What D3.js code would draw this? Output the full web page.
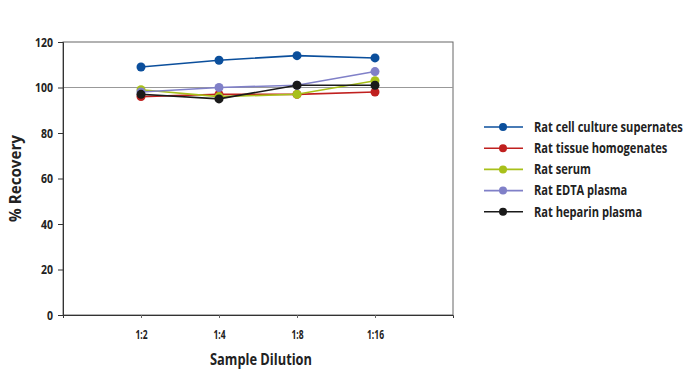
<!DOCTYPE html>
<html><head><meta charset="utf-8">
<script src="https://cdn.jsdelivr.net/npm/d3@7"></script>
<style>body{margin:0;background:#fff;}svg{display:block;font-family:"Open Sans","DejaVu Sans",sans-serif;}</style>
</head><body>
<svg id="c" width="694" height="378"></svg>
<script>
const categories = ["1:2","1:4","1:8","1:16"];
const seriesNames = ["Rat cell culture supernates","Rat tissue homogenates","Rat serum","Rat EDTA plasma","Rat heparin plasma"];
const cellCulture = [109,112,114,113];
const tissue = [96,97,97,98];
const serum = [99,96,97,103];
const edta = [98,100,101,107];
const heparin = [97,95,101,101];
const yTicks = [0,20,40,60,80,100,120];
const colors = ["#0b4f9c","#c0201f","#a8c01a","#8080c8","#1a1a1a"];
const series = [cellCulture, tissue, serum, edta, heparin];

const svg = d3.select("#c");
const L=63,R=453,T=42,B=315;
const x = d3.scaleLinear().domain([0,categories.length+1]).range([L,R]);
const y = d3.scaleLinear().domain([0,120]).range([B,T]);

// horizontally condense texts (transform) so that the widest reaches targetWidth
function condense(sel, targetWidth){
  let maxW = 0;
  sel.each(function(){ maxW = Math.max(maxW, this.getComputedTextLength()); });
  const f = targetWidth / maxW;
  sel.each(function(){
    const t = d3.select(this);
    const tx = +t.attr("x") || 0;
    const prev = t.attr("transform") || "";
    t.attr("x",0).attr("transform", `${prev} translate(${tx},0) scale(${f},1)`);
  });
}

svg.append("rect").attr("x",L).attr("y",T).attr("width",R-L).attr("height",B-T)
  .attr("fill","none").attr("stroke","#666").attr("stroke-width",1);
svg.append("line").attr("x1",L).attr("x2",R).attr("y1",y(100)).attr("y2",y(100))
  .attr("stroke","#999").attr("stroke-width",1);

const ya = svg.append("g").attr("transform",`translate(${L},0)`)
  .call(d3.axisLeft(y).tickValues(yTicks).tickSize(5).tickPadding(5));
ya.select(".domain").attr("stroke","#333");
ya.selectAll("line").attr("stroke","#333");
ya.selectAll("text").attr("font-size",13).attr("font-weight",700).attr("fill","#222").attr("font-family","Open Sans");
condense(ya.selectAll("text"), 18);

const xa = svg.append("g").attr("transform",`translate(0,${B})`)
  .call(d3.axisBottom(x).tickValues(d3.range(1,categories.length+1)).tickFormat(i=>categories[i-1]).tickSize(3).tickPadding(12));
xa.select(".domain").attr("stroke","#333");
xa.selectAll("line").attr("stroke","#666");
xa.selectAll("text").attr("font-size",13).attr("font-weight",700).attr("fill","#222").attr("font-family","Open Sans");
condense(xa.selectAll("text"), 17);

const xt = svg.append("text").attr("x",(L+R)/2+3).attr("y",365).attr("text-anchor","middle")
  .attr("font-size",16).attr("font-weight",700).attr("fill","#222").text("Sample Dilution");
condense(xt, 102);
const yt = svg.append("text").attr("transform",`translate(21,${(T+B)/2}) rotate(-90)`).attr("text-anchor","middle")
  .attr("font-size",16).attr("font-weight",700).attr("fill","#222").text("% Recovery");
condense(yt, 87);

const line = d3.line().x((d,i)=>x(i+1)).y(d=>y(d));
series.forEach((s,k)=>{
  svg.append("path").datum(s).attr("d",line).attr("fill","none").attr("stroke",colors[k]).attr("stroke-width",1.6);
  svg.selectAll(null).data(s).enter().append("circle")
    .attr("cx",(d,i)=>x(i+1)).attr("cy",d=>y(d)).attr("r",4.5).attr("fill",colors[k]);
});

const lg = svg.append("g");
seriesNames.forEach((n,k)=>{
  const yy = 127 + k*21.2;
  lg.append("line").attr("x1",484).attr("x2",523).attr("y1",yy).attr("y2",yy).attr("stroke",colors[k]).attr("stroke-width",1.6);
  lg.append("circle").attr("cx",503).attr("cy",yy).attr("r",4).attr("fill",colors[k]);
  lg.append("text").attr("class","lt").attr("x",534).attr("y",yy).attr("dy","0.35em").attr("font-size",14).attr("font-weight",700).attr("fill","#222").text(n);
});
condense(lg.selectAll("text.lt"), 149);
</script>
</body></html>
